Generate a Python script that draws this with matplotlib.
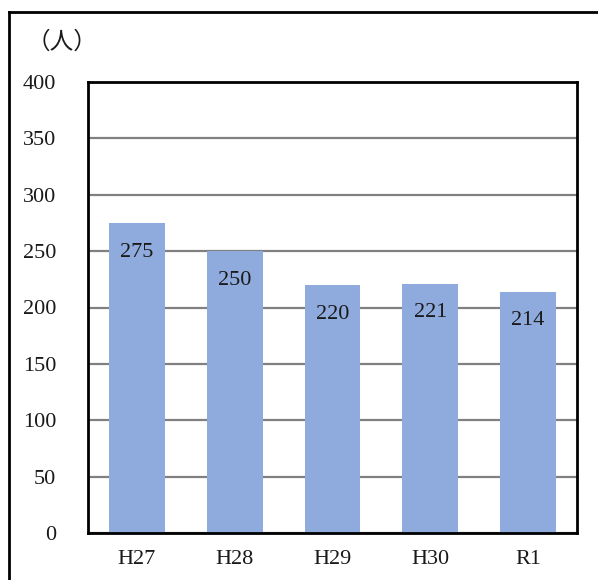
import matplotlib.pyplot as plt
from matplotlib.lines import Line2D

# 年度別の人数
years = ["H27", "H28", "H29", "H30", "R1"]
counts = [275, 250, 220, 221, 214]
yticks = [0, 50, 100, 150, 200, 250, 300, 350, 400]

W, H = 598, 580
fig = plt.figure(figsize=(W / 100, H / 100), dpi=100)
ax = fig.add_axes([88 / W, 1 - 533 / H, (577 - 88) / W, (533 - 82) / H])

serif = ["Liberation Serif", "DejaVu Serif"]

bars = ax.bar(range(len(years)), counts, width=0.57, color="#8FAADC", zorder=2)
ax.set_xlim(-0.5, len(years) - 0.5)
ax.set_ylim(0, 400)
ax.set_yticks(yticks)
ax.yaxis.grid(True, color="#808080", linewidth=1.6, zorder=1)
ax.set_axisbelow(True)
ax.tick_params(length=0)
ax.tick_params(axis="y", pad=23)
ax.tick_params(axis="x", pad=12)
ax.set_xticks(range(len(years)))
ax.set_xticklabels(years, fontsize=16, family=serif, color="#1a1a1a")
ax.set_yticklabels([str(t) for t in yticks], fontsize=16, family=serif, color="#1a1a1a")
for s in ax.spines.values():
    s.set_linewidth(2)
    s.set_color("black")

# 棒の上端付近に値を表示
for i, v in enumerate(counts):
    ax.annotate(str(v), (i, v), xytext=(0, -21), textcoords="offset points",
                ha="center", va="center", fontsize=16, family=serif, color="#1a1a1a")

fig.text(62 / W, 1 - 42 / H, "（人）", ha="center", va="center", fontsize=17,
         family=["Noto Sans CJK JP", "DejaVu Sans"], color="#1a1a1a")

# 外枠
fig.add_artist(Line2D([9 / W, 9 / W], [0, 1 - 12 / H], transform=fig.transFigure, color="black", lw=2))
fig.add_artist(Line2D([9 / W, 1], [1 - 12 / H, 1 - 12 / H], transform=fig.transFigure, color="black", lw=2))

fig.savefig("out.png", dpi=100)
